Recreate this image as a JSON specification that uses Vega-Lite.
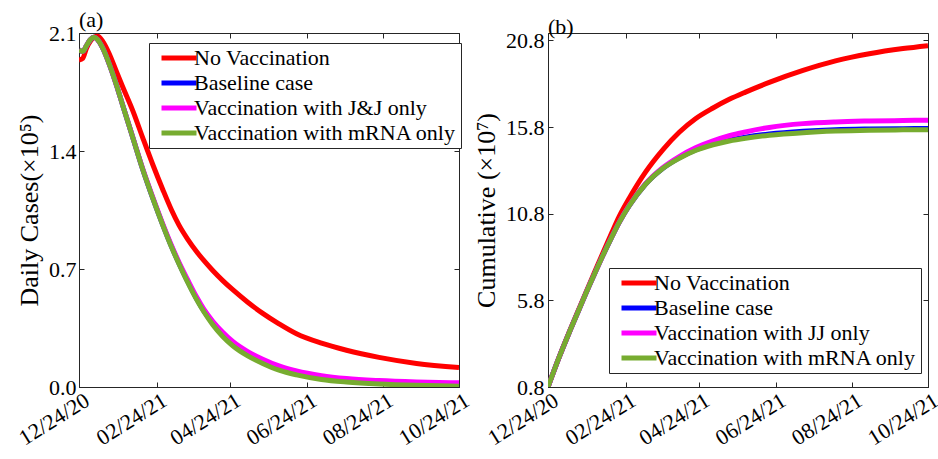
{
  "$schema": "https://vega.github.io/schema/vega-lite/v6.json",
  "background": "white",
  "padding": {"left": 14, "top": 8, "right": 5, "bottom": 0},
  "spacing": 89,
  "bounds": "flush",
  "config": {
    "font": "Liberation Serif",
    "view": {"stroke": "#262626", "strokeWidth": 1},
    "axis": {
      "grid": false,
      "domainColor": "#262626",
      "tickColor": "#262626",
      "tickSize": -5,
      "labelColor": "#000000",
      "titleColor": "#000000",
      "labelFont": "Liberation Serif",
      "titleFont": "Liberation Serif",
      "labelFontSize": 22,
      "titleFontSize": 26,
      "titleFontWeight": "normal",
      "labelLimit": 0,
      "labelOverlap": false
    },
    "legend": {
      "orient": "none",
      "title": null,
      "labelFont": "Liberation Serif",
      "labelFontSize": 22,
      "labelColor": "#000000",
      "labelLimit": 0,
      "symbolType": "M-2.9,0H4.1",
      "symbolStrokeWidth": 5,
      "symbolSize": 100,
      "symbolOffset": 12,
      "strokeColor": "#262626",
      "fillColor": "white",
      "padding": 4,
      "rowPadding": 3,
      "labelOffset": 7
    },
    "title": {"font": "Liberation Serif", "fontSize": 22, "fontWeight": "normal", "anchor": "start", "frame": "group", "offset": -10, "color": "#000000"}
  },
  "resolve": {"scale": {"color": "independent"}, "legend": {"color": "independent"}},
  "hconcat": [
    {
      "width": 380,
      "height": 354,
      "title": {"text": "(a)"},
      "data": {"values": [
        {"date":"2020-12-24","series":"No Vaccination","v":1.94},
        {"date":"2020-12-27","series":"No Vaccination","v":1.95},
        {"date":"2020-12-30","series":"No Vaccination","v":2.01},
        {"date":"2021-01-02","series":"No Vaccination","v":2.05},
        {"date":"2021-01-05","series":"No Vaccination","v":2.075},
        {"date":"2021-01-08","series":"No Vaccination","v":2.08},
        {"date":"2021-01-12","series":"No Vaccination","v":2.05},
        {"date":"2021-01-17","series":"No Vaccination","v":1.98},
        {"date":"2021-01-23","series":"No Vaccination","v":1.87},
        {"date":"2021-01-28","series":"No Vaccination","v":1.78},
        {"date":"2021-02-05","series":"No Vaccination","v":1.64},
        {"date":"2021-02-13","series":"No Vaccination","v":1.478},
        {"date":"2021-02-21","series":"No Vaccination","v":1.32},
        {"date":"2021-03-01","series":"No Vaccination","v":1.172},
        {"date":"2021-03-08","series":"No Vaccination","v":1.05},
        {"date":"2021-03-14","series":"No Vaccination","v":0.96},
        {"date":"2021-03-21","series":"No Vaccination","v":0.876},
        {"date":"2021-03-28","series":"No Vaccination","v":0.804},
        {"date":"2021-04-03","series":"No Vaccination","v":0.749},
        {"date":"2021-04-10","series":"No Vaccination","v":0.691},
        {"date":"2021-04-18","series":"No Vaccination","v":0.631},
        {"date":"2021-04-26","series":"No Vaccination","v":0.577},
        {"date":"2021-05-08","series":"No Vaccination","v":0.503},
        {"date":"2021-05-20","series":"No Vaccination","v":0.437},
        {"date":"2021-06-02","series":"No Vaccination","v":0.375},
        {"date":"2021-06-16","series":"No Vaccination","v":0.316},
        {"date":"2021-07-06","series":"No Vaccination","v":0.26},
        {"date":"2021-07-26","series":"No Vaccination","v":0.218},
        {"date":"2021-08-21","series":"No Vaccination","v":0.176},
        {"date":"2021-09-20","series":"No Vaccination","v":0.14},
        {"date":"2021-10-24","series":"No Vaccination","v":0.115},
        {"date":"2020-12-24","series":"Baseline case","v":2.0},
        {"date":"2020-12-27","series":"Baseline case","v":1.99},
        {"date":"2020-12-30","series":"Baseline case","v":2.025},
        {"date":"2021-01-02","series":"Baseline case","v":2.06},
        {"date":"2021-01-05","series":"Baseline case","v":2.075},
        {"date":"2021-01-08","series":"Baseline case","v":2.06},
        {"date":"2021-01-12","series":"Baseline case","v":2.01},
        {"date":"2021-01-17","series":"Baseline case","v":1.92},
        {"date":"2021-01-23","series":"Baseline case","v":1.79},
        {"date":"2021-01-28","series":"Baseline case","v":1.67},
        {"date":"2021-02-05","series":"Baseline case","v":1.48},
        {"date":"2021-02-13","series":"Baseline case","v":1.29},
        {"date":"2021-02-21","series":"Baseline case","v":1.12},
        {"date":"2021-03-01","series":"Baseline case","v":0.962},
        {"date":"2021-03-08","series":"Baseline case","v":0.833},
        {"date":"2021-03-14","series":"Baseline case","v":0.733},
        {"date":"2021-03-21","series":"Baseline case","v":0.625},
        {"date":"2021-03-28","series":"Baseline case","v":0.525},
        {"date":"2021-04-03","series":"Baseline case","v":0.45},
        {"date":"2021-04-10","series":"Baseline case","v":0.378},
        {"date":"2021-04-18","series":"Baseline case","v":0.308},
        {"date":"2021-04-26","series":"Baseline case","v":0.252},
        {"date":"2021-05-08","series":"Baseline case","v":0.192},
        {"date":"2021-05-20","series":"Baseline case","v":0.147},
        {"date":"2021-06-02","series":"Baseline case","v":0.107},
        {"date":"2021-06-16","series":"Baseline case","v":0.078},
        {"date":"2021-07-06","series":"Baseline case","v":0.05},
        {"date":"2021-07-26","series":"Baseline case","v":0.035},
        {"date":"2021-08-21","series":"Baseline case","v":0.022},
        {"date":"2021-09-20","series":"Baseline case","v":0.014},
        {"date":"2021-10-24","series":"Baseline case","v":0.008},
        {"date":"2020-12-24","series":"Vaccination with J&J only","v":2.0},
        {"date":"2020-12-27","series":"Vaccination with J&J only","v":1.99},
        {"date":"2020-12-30","series":"Vaccination with J&J only","v":2.025},
        {"date":"2021-01-02","series":"Vaccination with J&J only","v":2.06},
        {"date":"2021-01-05","series":"Vaccination with J&J only","v":2.075},
        {"date":"2021-01-08","series":"Vaccination with J&J only","v":2.06},
        {"date":"2021-01-12","series":"Vaccination with J&J only","v":2.01},
        {"date":"2021-01-17","series":"Vaccination with J&J only","v":1.92},
        {"date":"2021-01-23","series":"Vaccination with J&J only","v":1.79},
        {"date":"2021-01-28","series":"Vaccination with J&J only","v":1.672},
        {"date":"2021-02-05","series":"Vaccination with J&J only","v":1.483},
        {"date":"2021-02-13","series":"Vaccination with J&J only","v":1.295},
        {"date":"2021-02-21","series":"Vaccination with J&J only","v":1.127},
        {"date":"2021-03-01","series":"Vaccination with J&J only","v":0.968},
        {"date":"2021-03-08","series":"Vaccination with J&J only","v":0.84},
        {"date":"2021-03-14","series":"Vaccination with J&J only","v":0.74},
        {"date":"2021-03-21","series":"Vaccination with J&J only","v":0.635},
        {"date":"2021-03-28","series":"Vaccination with J&J only","v":0.535},
        {"date":"2021-04-03","series":"Vaccination with J&J only","v":0.46},
        {"date":"2021-04-10","series":"Vaccination with J&J only","v":0.39},
        {"date":"2021-04-18","series":"Vaccination with J&J only","v":0.325},
        {"date":"2021-04-26","series":"Vaccination with J&J only","v":0.27},
        {"date":"2021-05-08","series":"Vaccination with J&J only","v":0.21},
        {"date":"2021-05-20","series":"Vaccination with J&J only","v":0.165},
        {"date":"2021-06-02","series":"Vaccination with J&J only","v":0.125},
        {"date":"2021-06-16","series":"Vaccination with J&J only","v":0.095},
        {"date":"2021-07-06","series":"Vaccination with J&J only","v":0.067},
        {"date":"2021-07-26","series":"Vaccination with J&J only","v":0.05},
        {"date":"2021-08-21","series":"Vaccination with J&J only","v":0.038},
        {"date":"2021-09-20","series":"Vaccination with J&J only","v":0.03},
        {"date":"2021-10-24","series":"Vaccination with J&J only","v":0.025},
        {"date":"2020-12-24","series":"Vaccination with mRNA only","v":2.0},
        {"date":"2020-12-27","series":"Vaccination with mRNA only","v":1.99},
        {"date":"2020-12-30","series":"Vaccination with mRNA only","v":2.025},
        {"date":"2021-01-02","series":"Vaccination with mRNA only","v":2.06},
        {"date":"2021-01-05","series":"Vaccination with mRNA only","v":2.075},
        {"date":"2021-01-08","series":"Vaccination with mRNA only","v":2.06},
        {"date":"2021-01-12","series":"Vaccination with mRNA only","v":2.01},
        {"date":"2021-01-17","series":"Vaccination with mRNA only","v":1.92},
        {"date":"2021-01-23","series":"Vaccination with mRNA only","v":1.79},
        {"date":"2021-01-28","series":"Vaccination with mRNA only","v":1.67},
        {"date":"2021-02-05","series":"Vaccination with mRNA only","v":1.48},
        {"date":"2021-02-13","series":"Vaccination with mRNA only","v":1.29},
        {"date":"2021-02-21","series":"Vaccination with mRNA only","v":1.12},
        {"date":"2021-03-01","series":"Vaccination with mRNA only","v":0.96},
        {"date":"2021-03-08","series":"Vaccination with mRNA only","v":0.83},
        {"date":"2021-03-14","series":"Vaccination with mRNA only","v":0.73},
        {"date":"2021-03-21","series":"Vaccination with mRNA only","v":0.62},
        {"date":"2021-03-28","series":"Vaccination with mRNA only","v":0.52},
        {"date":"2021-04-03","series":"Vaccination with mRNA only","v":0.445},
        {"date":"2021-04-10","series":"Vaccination with mRNA only","v":0.37},
        {"date":"2021-04-18","series":"Vaccination with mRNA only","v":0.3},
        {"date":"2021-04-26","series":"Vaccination with mRNA only","v":0.245},
        {"date":"2021-05-08","series":"Vaccination with mRNA only","v":0.185},
        {"date":"2021-05-20","series":"Vaccination with mRNA only","v":0.14},
        {"date":"2021-06-02","series":"Vaccination with mRNA only","v":0.1},
        {"date":"2021-06-16","series":"Vaccination with mRNA only","v":0.072},
        {"date":"2021-07-06","series":"Vaccination with mRNA only","v":0.045},
        {"date":"2021-07-26","series":"Vaccination with mRNA only","v":0.03},
        {"date":"2021-08-21","series":"Vaccination with mRNA only","v":0.018},
        {"date":"2021-09-20","series":"Vaccination with mRNA only","v":0.01},
        {"date":"2021-10-24","series":"Vaccination with mRNA only","v":0.005}
      ]},
      "layer": [
        {
          "mark": {"type": "line", "strokeWidth": 5, "clip": true, "interpolate": "monotone"},
          "encoding": {
            "x": {"field": "date", "type": "temporal",
              "scale": {"type": "utc", "domain": [{"year": 2020, "month": 12, "date": 24, "utc": true}, {"year": 2021, "month": 10, "date": 24, "utc": true}]},
              "axis": {"title": null, "format": "%m/%d/%y", "labelAngle": -32, "labelAlign": "right", "labelBaseline": "middle", "labelPadding": 16, "labelOffset": 8, "labelFontSize": 22,
                "values": [{"year": 2020, "month": 12, "date": 24, "utc": true}, {"year": 2021, "month": 2, "date": 24, "utc": true}, {"year": 2021, "month": 4, "date": 24, "utc": true}, {"year": 2021, "month": 6, "date": 24, "utc": true}, {"year": 2021, "month": 8, "date": 24, "utc": true}, {"year": 2021, "month": 10, "date": 24, "utc": true}]}},
            "y": {"field": "v", "type": "quantitative", "scale": {"domain": [0, 2.1], "nice": false, "zero": false},
              "axis": {"title": "Daily Cases(×10⁵)", "values": [0, 0.7, 1.4, 2.1], "format": ".1f", "labelPadding": 8, "titlePadding": 6}},
            "color": {"field": "series", "type": "nominal",
              "scale": {"domain": ["No Vaccination", "Baseline case", "Vaccination with J&J only", "Vaccination with mRNA only"], "range": ["#FF0000", "#0000FF", "#FF00FF", "#77AC30"]},
              "legend": {"legendX": 70, "legendY": 10}}
          }
        },
        {
          "mark": {"type": "point", "opacity": 0},
          "encoding": {
            "x": {"field": "date", "type": "temporal", "axis": {"orient": "top", "labels": false, "title": null, "domain": false,
                "values": [{"year": 2020, "month": 12, "date": 24, "utc": true}, {"year": 2021, "month": 2, "date": 24, "utc": true}, {"year": 2021, "month": 4, "date": 24, "utc": true}, {"year": 2021, "month": 6, "date": 24, "utc": true}, {"year": 2021, "month": 8, "date": 24, "utc": true}, {"year": 2021, "month": 10, "date": 24, "utc": true}]}},
            "y": {"field": "v", "type": "quantitative", "axis": {"orient": "right", "labels": false, "title": null, "domain": false, "values": [0, 0.7, 1.4, 2.1]}}
          }
        }
      ],
      "resolve": {"axis": {"x": "independent", "y": "independent"}}
    },
    {
      "width": 380,
      "height": 354,
      "title": {"text": "(b)"},
      "data": {"values": [
        {"date":"2020-12-24","series":"No Vaccination","v":0.8},
        {"date":"2021-01-01","series":"No Vaccination","v":2.35},
        {"date":"2021-01-10","series":"No Vaccination","v":3.97},
        {"date":"2021-01-18","series":"No Vaccination","v":5.35},
        {"date":"2021-01-23","series":"No Vaccination","v":6.2},
        {"date":"2021-01-31","series":"No Vaccination","v":7.55},
        {"date":"2021-02-06","series":"No Vaccination","v":8.55},
        {"date":"2021-02-13","series":"No Vaccination","v":9.7},
        {"date":"2021-02-19","series":"No Vaccination","v":10.65},
        {"date":"2021-02-27","series":"No Vaccination","v":11.7},
        {"date":"2021-03-12","series":"No Vaccination","v":13.2},
        {"date":"2021-03-26","series":"No Vaccination","v":14.5},
        {"date":"2021-04-08","series":"No Vaccination","v":15.5},
        {"date":"2021-04-21","series":"No Vaccination","v":16.28},
        {"date":"2021-05-05","series":"No Vaccination","v":16.9},
        {"date":"2021-05-18","series":"No Vaccination","v":17.4},
        {"date":"2021-05-31","series":"No Vaccination","v":17.82},
        {"date":"2021-06-19","series":"No Vaccination","v":18.38},
        {"date":"2021-07-16","series":"No Vaccination","v":19.07},
        {"date":"2021-08-11","series":"No Vaccination","v":19.62},
        {"date":"2021-09-07","series":"No Vaccination","v":20.03},
        {"date":"2021-10-04","series":"No Vaccination","v":20.33},
        {"date":"2021-10-24","series":"No Vaccination","v":20.5},
        {"date":"2020-12-24","series":"Baseline case","v":0.8},
        {"date":"2021-01-01","series":"Baseline case","v":2.35},
        {"date":"2021-01-10","series":"Baseline case","v":3.95},
        {"date":"2021-01-18","series":"Baseline case","v":5.3},
        {"date":"2021-01-23","series":"Baseline case","v":6.15},
        {"date":"2021-01-31","series":"Baseline case","v":7.45},
        {"date":"2021-02-06","series":"Baseline case","v":8.4},
        {"date":"2021-02-13","series":"Baseline case","v":9.45},
        {"date":"2021-02-19","series":"Baseline case","v":10.3},
        {"date":"2021-02-27","series":"Baseline case","v":11.26},
        {"date":"2021-03-12","series":"Baseline case","v":12.5},
        {"date":"2021-03-26","series":"Baseline case","v":13.42},
        {"date":"2021-04-08","series":"Baseline case","v":14.02},
        {"date":"2021-04-21","series":"Baseline case","v":14.48},
        {"date":"2021-05-05","series":"Baseline case","v":14.82},
        {"date":"2021-05-18","series":"Baseline case","v":15.05},
        {"date":"2021-05-31","series":"Baseline case","v":15.22},
        {"date":"2021-06-19","series":"Baseline case","v":15.4},
        {"date":"2021-07-16","series":"Baseline case","v":15.56},
        {"date":"2021-08-11","series":"Baseline case","v":15.65},
        {"date":"2021-09-07","series":"Baseline case","v":15.69},
        {"date":"2021-10-04","series":"Baseline case","v":15.71},
        {"date":"2021-10-24","series":"Baseline case","v":15.72},
        {"date":"2020-12-24","series":"Vaccination with JJ only","v":0.8},
        {"date":"2021-01-01","series":"Vaccination with JJ only","v":2.35},
        {"date":"2021-01-10","series":"Vaccination with JJ only","v":3.95},
        {"date":"2021-01-18","series":"Vaccination with JJ only","v":5.3},
        {"date":"2021-01-23","series":"Vaccination with JJ only","v":6.15},
        {"date":"2021-01-31","series":"Vaccination with JJ only","v":7.45},
        {"date":"2021-02-06","series":"Vaccination with JJ only","v":8.4},
        {"date":"2021-02-13","series":"Vaccination with JJ only","v":9.46},
        {"date":"2021-02-19","series":"Vaccination with JJ only","v":10.31},
        {"date":"2021-02-27","series":"Vaccination with JJ only","v":11.28},
        {"date":"2021-03-12","series":"Vaccination with JJ only","v":12.53},
        {"date":"2021-03-26","series":"Vaccination with JJ only","v":13.47},
        {"date":"2021-04-08","series":"Vaccination with JJ only","v":14.1},
        {"date":"2021-04-21","series":"Vaccination with JJ only","v":14.6},
        {"date":"2021-05-05","series":"Vaccination with JJ only","v":15.0},
        {"date":"2021-05-18","series":"Vaccination with JJ only","v":15.3},
        {"date":"2021-05-31","series":"Vaccination with JJ only","v":15.52},
        {"date":"2021-06-19","series":"Vaccination with JJ only","v":15.78},
        {"date":"2021-07-16","series":"Vaccination with JJ only","v":16.0},
        {"date":"2021-08-11","series":"Vaccination with JJ only","v":16.1},
        {"date":"2021-09-07","series":"Vaccination with JJ only","v":16.15},
        {"date":"2021-10-04","series":"Vaccination with JJ only","v":16.18},
        {"date":"2021-10-24","series":"Vaccination with JJ only","v":16.2},
        {"date":"2020-12-24","series":"Vaccination with mRNA only","v":0.8},
        {"date":"2021-01-01","series":"Vaccination with mRNA only","v":2.35},
        {"date":"2021-01-10","series":"Vaccination with mRNA only","v":3.95},
        {"date":"2021-01-18","series":"Vaccination with mRNA only","v":5.3},
        {"date":"2021-01-23","series":"Vaccination with mRNA only","v":6.15},
        {"date":"2021-01-31","series":"Vaccination with mRNA only","v":7.45},
        {"date":"2021-02-06","series":"Vaccination with mRNA only","v":8.4},
        {"date":"2021-02-13","series":"Vaccination with mRNA only","v":9.45},
        {"date":"2021-02-19","series":"Vaccination with mRNA only","v":10.3},
        {"date":"2021-02-27","series":"Vaccination with mRNA only","v":11.26},
        {"date":"2021-03-12","series":"Vaccination with mRNA only","v":12.5},
        {"date":"2021-03-26","series":"Vaccination with mRNA only","v":13.42},
        {"date":"2021-04-08","series":"Vaccination with mRNA only","v":14.0},
        {"date":"2021-04-21","series":"Vaccination with mRNA only","v":14.45},
        {"date":"2021-05-05","series":"Vaccination with mRNA only","v":14.78},
        {"date":"2021-05-18","series":"Vaccination with mRNA only","v":15.0},
        {"date":"2021-05-31","series":"Vaccination with mRNA only","v":15.16},
        {"date":"2021-06-19","series":"Vaccination with mRNA only","v":15.33},
        {"date":"2021-07-16","series":"Vaccination with mRNA only","v":15.48},
        {"date":"2021-08-11","series":"Vaccination with mRNA only","v":15.57},
        {"date":"2021-09-07","series":"Vaccination with mRNA only","v":15.62},
        {"date":"2021-10-04","series":"Vaccination with mRNA only","v":15.64},
        {"date":"2021-10-24","series":"Vaccination with mRNA only","v":15.65}
      ]},
      "layer": [
        {
          "mark": {"type": "line", "strokeWidth": 5, "clip": true, "interpolate": "monotone"},
          "encoding": {
            "x": {"field": "date", "type": "temporal",
              "scale": {"type": "utc", "domain": [{"year": 2020, "month": 12, "date": 24, "utc": true}, {"year": 2021, "month": 10, "date": 24, "utc": true}]},
              "axis": {"title": null, "format": "%m/%d/%y", "labelAngle": -32, "labelAlign": "right", "labelBaseline": "middle", "labelPadding": 16, "labelOffset": 8, "labelFontSize": 22,
                "values": [{"year": 2020, "month": 12, "date": 24, "utc": true}, {"year": 2021, "month": 2, "date": 24, "utc": true}, {"year": 2021, "month": 4, "date": 24, "utc": true}, {"year": 2021, "month": 6, "date": 24, "utc": true}, {"year": 2021, "month": 8, "date": 24, "utc": true}, {"year": 2021, "month": 10, "date": 24, "utc": true}]}},
            "y": {"field": "v", "type": "quantitative", "scale": {"domain": [0.8, 21.23], "nice": false, "zero": false},
              "axis": {"title": "Cumulative (×10⁷)", "values": [0.8, 5.8, 10.8, 15.8, 20.8], "format": ".1f", "labelPadding": 9, "titlePadding": 6}},
            "color": {"field": "series", "type": "nominal",
              "scale": {"domain": ["No Vaccination", "Baseline case", "Vaccination with JJ only", "Vaccination with mRNA only"], "range": ["#FF0000", "#0000FF", "#FF00FF", "#77AC30"]},
              "legend": {"legendX": 61, "legendY": 235}}
          }
        },
        {
          "mark": {"type": "point", "opacity": 0},
          "encoding": {
            "x": {"field": "date", "type": "temporal", "axis": {"orient": "top", "labels": false, "title": null, "domain": false,
                "values": [{"year": 2020, "month": 12, "date": 24, "utc": true}, {"year": 2021, "month": 2, "date": 24, "utc": true}, {"year": 2021, "month": 4, "date": 24, "utc": true}, {"year": 2021, "month": 6, "date": 24, "utc": true}, {"year": 2021, "month": 8, "date": 24, "utc": true}, {"year": 2021, "month": 10, "date": 24, "utc": true}]}},
            "y": {"field": "v", "type": "quantitative", "axis": {"orient": "right", "labels": false, "title": null, "domain": false, "values": [0.8, 5.8, 10.8, 15.8, 20.8]}}
          }
        }
      ],
      "resolve": {"axis": {"x": "independent", "y": "independent"}}
    }
  ]
}
